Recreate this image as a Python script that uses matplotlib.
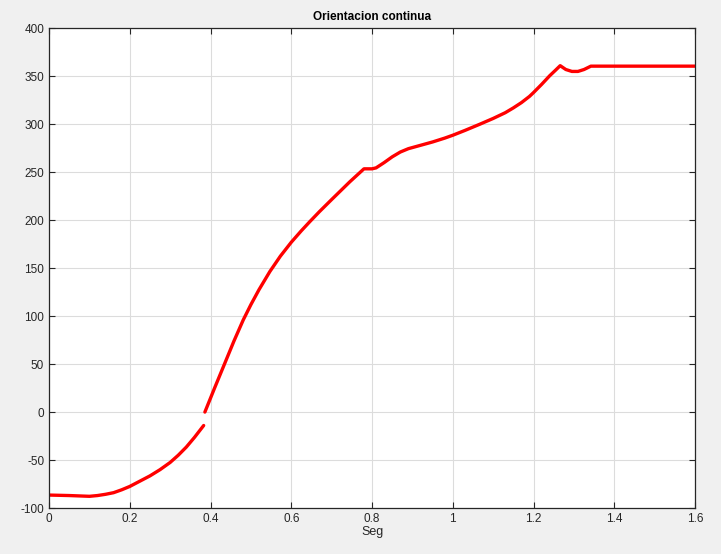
import matplotlib
matplotlib.use("Agg")
import matplotlib.pyplot as plt

# first branch (before wrap)
x1 = [0.0, 0.05, 0.1, 0.12, 0.14, 0.16, 0.18, 0.2, 0.225, 0.25, 0.275, 0.3,
      0.32, 0.34, 0.36, 0.383]
y1 = [-86.5, -87, -87.8, -87, -85.7, -84, -81, -77.5, -72, -66.5, -60, -52.5,
      -45, -36.5, -26.5, -14]

# second branch
x2 = [0.386, 0.41, 0.435, 0.458, 0.481, 0.50, 0.52, 0.547, 0.573, 0.6, 0.625,
      0.646, 0.67, 0.70, 0.745, 0.78, 0.80, 0.81, 0.83, 0.85, 0.87, 0.89,
      0.92, 0.95, 0.98, 1.0, 1.03, 1.067, 1.1, 1.13, 1.15, 1.17, 1.19, 1.2,
      1.22, 1.24, 1.255, 1.266, 1.28, 1.295, 1.31, 1.325, 1.342, 1.4, 1.5, 1.6]
y2 = [0, 25, 50.5, 74, 96, 112, 127.5, 146.5, 162.5, 177, 189,
      198.5, 209, 221.5, 240, 253.5, 253.5, 254.5, 260, 266, 271, 274.5,
      278, 281.5, 285.5, 288.5, 293.5, 300, 306, 312, 317, 322.5, 329, 333,
      341.5, 350.5, 356.5, 361, 357, 355, 355, 357, 360.5, 360.5, 360.5, 360.5]

plt.rcParams['font.family'] = ['Liberation Sans', 'DejaVu Sans']
plt.rcParams['axes.unicode_minus'] = False

fig = plt.figure(figsize=(7.21, 5.54), dpi=100, facecolor='#f0f0f0')
ax = fig.add_axes([0.068, 0.083, 0.896, 0.866])

ax.plot(x1, y1, color='red', lw=2.4, solid_capstyle='round', solid_joinstyle='round')
ax.plot(x2, y2, color='red', lw=2.4, solid_capstyle='round', solid_joinstyle='round')

ax.set_xlim(0, 1.6)
ax.set_ylim(-100, 400)
ax.set_xticks([0, 0.2, 0.4, 0.6, 0.8, 1, 1.2, 1.4, 1.6])
ax.set_xticklabels(['0', '0.2', '0.4', '0.6', '0.8', '1', '1.2', '1.4', '1.6'])
ax.set_yticks(range(-100, 401, 50))
ax.grid(True, color='#dcdcdc', lw=0.8)
ax.set_axisbelow(True)
ax.tick_params(direction='in', top=True, right=True, labelsize=8.5,
               colors='#262626', length=4)
for s in ax.spines.values():
    s.set_color('#262626')
    s.set_linewidth(0.9)

ax.set_title('Orientacion continua', fontsize=8.5, fontweight='bold', pad=6)
ax.set_xlabel('Seg', fontsize=9, color='#262626', labelpad=1)

fig.savefig('out.png', dpi=100, facecolor=fig.get_facecolor())
